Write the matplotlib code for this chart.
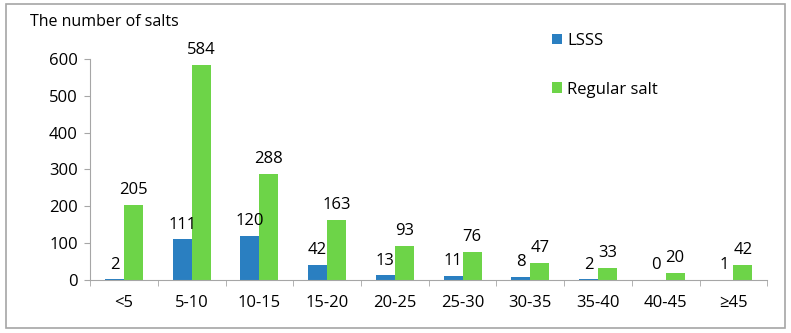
import numpy as np
import matplotlib.pyplot as plt
from matplotlib.patches import Rectangle

categories = ["<5", "5-10", "10-15", "15-20", "20-25", "25-30", "30-35", "35-40", "40-45", "≥45"]
lsss = [2, 111, 120, 42, 13, 11, 8, 2, 0, 1]
regular = [205, 584, 288, 163, 93, 76, 47, 33, 20, 42]

BLUE = "#2a7fc1"
GREEN = "#6dd448"
GREY = "#a6a6a6"

plt.rcParams['font.family'] = ['Open Sans', 'DejaVu Sans']

fig = plt.figure(figsize=(7.91, 3.33), dpi=100)
fig.patches.append(Rectangle((0.007, 0.015), 0.985, 0.973, transform=fig.transFigure,
                             fill=False, edgecolor=GREY, linewidth=1.2))
ax = fig.add_axes([0.114, 0.159, 0.856, 0.664])

x = np.arange(len(categories))
w = 0.28
ax.bar(x - w / 2, lsss, w, color=BLUE, label="LSSS")
ax.bar(x + w / 2, regular, w, color=GREEN, label="Regular salt")

for xi, v in zip(x, lsss):
    ax.text(xi - w / 2, v + 18, str(v), ha="center", va="bottom", fontsize=12)
for xi, v in zip(x, regular):
    ax.text(xi + w / 2, v + 18, str(v), ha="center", va="bottom", fontsize=12)

ax.set_xlim(-0.5, len(categories) - 0.5)
ax.set_ylim(0, 600)
ax.set_yticks(range(0, 601, 100))
ax.tick_params(axis="y", labelsize=12, length=4, color=GREY, pad=5)
ax.set_xticks(x)
ax.set_xticklabels(categories)
ax.set_xticks(np.arange(-0.5, len(categories), 1), minor=True)
ax.tick_params(axis="x", which="major", length=0, labelsize=12, pad=11)
ax.tick_params(axis="x", which="minor", length=4, color=GREY)

for s in ["top", "right"]:
    ax.spines[s].set_visible(False)
ax.spines["left"].set_color(GREY)
ax.spines["bottom"].set_color(GREY)

fig.text(0.038, 0.935, "The number of salts", fontsize=11.5, va="center")

ax.legend(loc="upper left", bbox_to_anchor=(0.66, 1.185), frameon=False, fontsize=12,
          handlelength=0.6, handleheight=0.6, handletextpad=0.3, labelspacing=1.95)

fig.savefig("out.png", dpi=100)
